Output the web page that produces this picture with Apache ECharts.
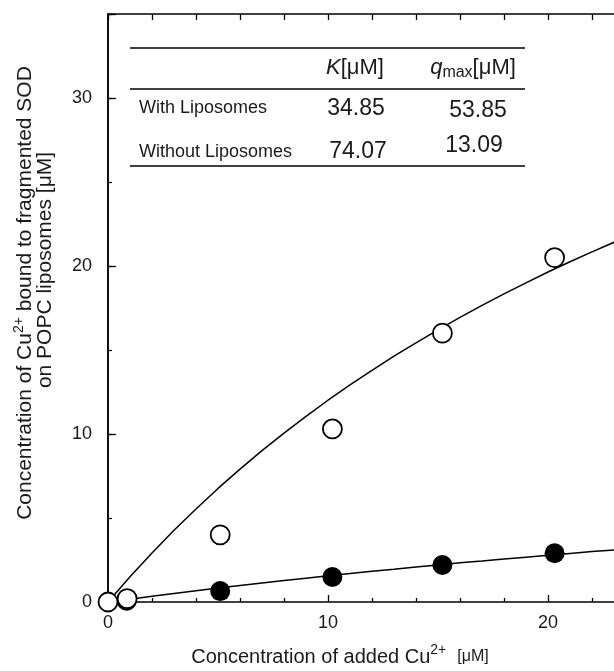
<!DOCTYPE html>
<html>
<head>
<meta charset="utf-8">
<script src="https://cdn.jsdelivr.net/npm/echarts@6/dist/echarts.min.js"></script>
<style>html,body{margin:0;padding:0;background:#fff}#c{width:614px;height:671px}</style>
</head>
<body>
<div id="c"></div>
<script>
// ---- data ----
const openX = [0, 0.87, 5.1, 10.2, 15.2, 20.3];          // with liposomes (open circles)
const openY = [0, 0.2, 4.0, 10.3, 16.0, 20.5];
const filledX = [0.85, 5.1, 10.2, 15.2, 20.3];           // without liposomes (filled circles)
const filledY = [0.08, 0.65, 1.49, 2.2, 2.9];
const fitX = [0,1,2,3,4,5,6,7,8,9,10,11,12,13,14,15,16,17,18,19,20,21,22,23,24];
const fitWith = [0,1.50,2.92,4.27,5.54,6.76,7.91,9.01,10.05,11.05,12.01,12.92,13.79,14.63,15.43,16.20,16.94,17.66,18.34,19.00,19.64,20.25,20.84,21.41,21.96];
const fitWithout = [0,0.17,0.34,0.51,0.67,0.83,0.98,1.13,1.28,1.42,1.56,1.69,1.83,1.95,2.08,2.20,2.33,2.44,2.56,2.67,2.78,2.89,3.00,3.10,3.20];
const tableRows = ['With Liposomes', 'Without Liposomes'];
const tableK = ['34.85', '74.07'];
const tableQ = ['53.85', '13.09'];
const xTickLabels = [0, 10, 20];
const yTickLabels = [0, 10, 20, 30];

const FONT = '"Liberation Sans", Arial, Helvetica, sans-serif';
const TXT = '#1a1a1a';
const chart = echarts.init(document.getElementById('c'), null, {renderer: 'canvas'});

const zip = (a, b) => a.map((v, i) => [v, b[i]]);
const AX = {color: '#000', width: 1.5};
const TK = {color: '#000', width: 1.3};

const option = {
  animation: false,
  backgroundColor: '#fff',
  grid: {left: 108, top: 14, bottom: 69, right: -154, containLabel: false, outerBoundsMode: 'none'},
  xAxis: [
    {type: 'value', min: 0, max: 30, interval: 10, position: 'bottom',
     axisLine: {onZero: false, lineStyle: AX},
     axisTick: {inside: true, length: 7, lineStyle: TK},
     minorTick: {show: true, splitNumber: 5, length: 4, lineStyle: TK},
     axisLabel: {fontSize: 18, fontFamily: FONT, color: TXT, margin: 12,
       formatter: v => xTickLabels.includes(v) ? String(v) : ''},
     splitLine: {show: false}},
    {type: 'value', min: 0, max: 30, interval: 2, position: 'top',
     axisLine: {onZero: false, lineStyle: AX},
     axisTick: {inside: true, length: 6, lineStyle: TK},
     axisLabel: {show: false}, splitLine: {show: false}}
  ],
  yAxis: [
    {type: 'value', min: 0, max: 35, interval: 5, position: 'left',
     axisLine: {show: true, onZero: false, lineStyle: AX},
     axisTick: {show: true, inside: true, length: 4, lineStyle: TK},
     axisLabel: {show: false}, splitLine: {show: false}},
    {type: 'value', min: 0, max: 35, interval: 10, position: 'left',
     axisLine: {show: true, onZero: false, lineStyle: AX},
     axisTick: {show: true, inside: true, length: 8, lineStyle: TK},
     axisLabel: {fontSize: 18, fontFamily: FONT, color: TXT, margin: 16,
       formatter: v => yTickLabels.includes(v) ? String(v) : ''},
     splitLine: {show: false}}
  ],
  series: [
    {type: 'line', name: 'fit with', data: zip(fitX, fitWith), showSymbol: false,
     lineStyle: {color: '#000', width: 1.5}, z: 2},
    {type: 'line', name: 'fit without', data: zip(fitX, fitWithout), showSymbol: false,
     lineStyle: {color: '#000', width: 1.5}, z: 2},
    {type: 'scatter', name: 'Without Liposomes', data: zip(filledX, filledY), symbol: 'circle', symbolSize: 20,
     itemStyle: {color: '#000', opacity: 1}, clip: false, z: 3},
    {type: 'scatter', name: 'With Liposomes', data: zip(openX, openY), symbol: 'circle', symbolSize: 19,
     itemStyle: {color: '#fff', borderColor: '#000', borderWidth: 1.8, opacity: 1}, clip: false, z: 4}
  ],
  graphic: [
    // table rules
    {type: 'line', shape: {x1: 130, y1: 48, x2: 525, y2: 48}, style: {stroke: '#000', lineWidth: 1.5}},
    {type: 'line', shape: {x1: 130, y1: 89, x2: 525, y2: 89}, style: {stroke: '#000', lineWidth: 1.5}},
    {type: 'line', shape: {x1: 130, y1: 166, x2: 525, y2: 166}, style: {stroke: '#000', lineWidth: 1.5}},
    // table header
    {type: 'text', x: 355, y: 68, style: {text: '{i|K}[μM]', textAlign: 'center', textVerticalAlign: 'middle',
      font: '22px ' + FONT, fill: TXT, rich: {i: {fontStyle: 'italic', fontSize: 22, fontFamily: FONT}}}},
    {type: 'text', x: 473, y: 68, style: {text: '{i|q}{s|max}[μM]', textAlign: 'center', textVerticalAlign: 'middle',
      font: '22px ' + FONT, fill: TXT, rich: {i: {fontStyle: 'italic', fontSize: 22, fontFamily: FONT},
      s: {fontSize: 16, fontFamily: FONT, padding: [10, 0, 0, 0]}}}},
    // table rows
    {type: 'text', x: 139, y: 108, style: {text: tableRows[0], textAlign: 'left', textVerticalAlign: 'middle', font: '18px ' + FONT, fill: TXT}},
    {type: 'text', x: 139, y: 152, style: {text: tableRows[1], textAlign: 'left', textVerticalAlign: 'middle', font: '18px ' + FONT, fill: TXT}},
    {type: 'text', x: 356, y: 109, style: {text: tableK[0], textAlign: 'center', textVerticalAlign: 'middle', font: '23px ' + FONT, fill: TXT}},
    {type: 'text', x: 358, y: 152, style: {text: tableK[1], textAlign: 'center', textVerticalAlign: 'middle', font: '23px ' + FONT, fill: TXT}},
    {type: 'text', x: 478, y: 111, style: {text: tableQ[0], textAlign: 'center', textVerticalAlign: 'middle', font: '23px ' + FONT, fill: TXT}},
    {type: 'text', x: 474, y: 146, style: {text: tableQ[1], textAlign: 'center', textVerticalAlign: 'middle', font: '23px ' + FONT, fill: TXT}},
    // y axis title (two lines)
    {type: 'text', x: 25, y: 293, rotation: Math.PI / 2, style: {text: 'Concentration of Cu{sup|2+} bound to fragmented SOD',
      textAlign: 'center', textVerticalAlign: 'middle', font: '21px ' + FONT, fill: TXT,
      rich: {sup: {fontSize: 14, fontFamily: FONT, padding: [0, 0, 12, 0]}}}},
    {type: 'text', x: 45, y: 270, rotation: Math.PI / 2, style: {text: 'on POPC liposomes [μM]',
      textAlign: 'center', textVerticalAlign: 'middle', font: '21px ' + FONT, fill: TXT}},
    // x axis title
    {type: 'text', x: 340, y: 657, style: {text: 'Concentration of added Cu{sup|2+}  {u|[μM]}',
      textAlign: 'center', textVerticalAlign: 'middle', font: '20px ' + FONT, fill: TXT,
      rich: {sup: {fontSize: 14, fontFamily: FONT, padding: [0, 0, 13, 0]}, u: {fontSize: 16, fontFamily: FONT}}}}
  ]
};
chart.setOption(option);
</script>
</body>
</html>
